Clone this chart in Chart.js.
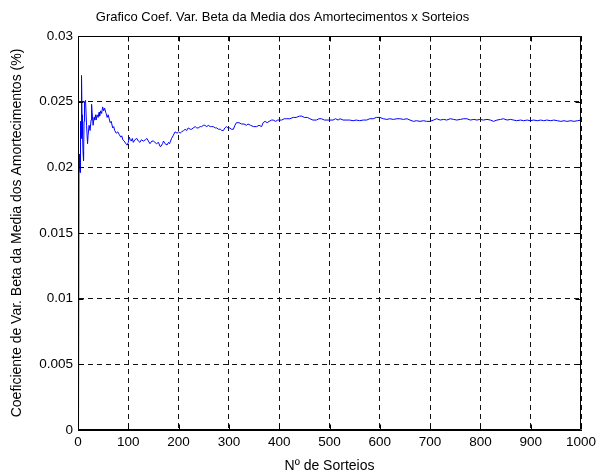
<!DOCTYPE html>
<html>
<head>
<meta charset="utf-8">
<script src="https://cdn.jsdelivr.net/npm/chart.js@4/dist/chart.umd.min.js"></script>
<style>
  html, body { margin: 0; padding: 0; background: #fff; }
  #wrap { width: 608px; height: 475px; }
</style>
</head>
<body>
<div id="wrap"><canvas id="c" width="608" height="475"></canvas></div>
<script>
const chartTitle = 'Grafico Coef. Var. Beta da Media dos Amortecimentos x Sorteios';
const xAxisTitle = 'Nº de Sorteios';
const yAxisTitle = 'Coeficiente de Var. Beta da Media dos Amortecimentos (%)';

const xTickValues = [0, 100, 200, 300, 400, 500, 600, 700, 800, 900, 1000];
const xTickLabels = ['0', '100', '200', '300', '400', '500', '600', '700', '800', '900', '1000'];
const yTickValues = [0, 0.005, 0.01, 0.015, 0.02, 0.025, 0.03];
const yTickLabels = ['0', '0.005', '0.01', '0.015', '0.02', '0.025', '0.03'];

const sorteios = [
  1,2,3,4,5,6,7,8,9,10,11,12,13,15,17,19,20,22,24,26,27,28,30,32,33,35,36,38,40,42,43,45,47,49,51,53,55,56,58,60,
  62,64,66,69,71,73,76,79,82,85,87,89,92,95,98,100,102,104,106,108,110,113,117,120,123,126,130,134,137,140,
  143,147,150,153,156,160,163,165,168,170,173,177,180,182,184,186,189,193,197,200,203,206,210,213,216,219,223,226,229,233,
  236,239,243,246,249,252,256,259,263,266,269,273,276,279,283,286,289,292,295,298,302,305,309,312,315,320,325,330,335,338,
  343,349,355,360,365,368,372,376,380,385,388,393,397,400,405,410,415,421,428,434,440,445,450,456,461,467,474,479,484,490,
  495,501,507,512,517,521,527,533,540,547,553,560,567,574,580,587,593,600,607,614,620,627,634,640,647,654,660,667,673,680,
  687,693,700,707,713,720,727,733,740,747,753,760,767,773,780,787,793,799,806,813,820,826,833,840,846,853,860,866,872,880,
  886,893,899,906,913,920,926,932,940,946,953,960,966,972,980,986,993,1000
];
const coefVar = [
  0,0.0210,0.0200,0.0196,0.0235,0.0222,0.0270,0.0240,0.0225,0.0212,0.0205,0.0235,0.0250,0.0251,0.0232,0.0218,0.0224,0.0232,0.0228,0.0236,0.0248,0.0242,0.0232,0.0238,0.0236,0.0240,0.0236,0.0240,0.0238,0.0242,0.0239,0.0243,0.0241,0.0246,0.0243,0.0245,0.0242,0.0241,0.0238,0.0240,
  0.0237,0.0234,0.0235,0.0230,0.0231,0.0228,0.0226,0.0227,0.0225,0.0223,0.0224,0.0221,0.0220,0.0218,0.0217,0.0219,0.0223,0.0221,0.0220,0.0222,0.0219,0.0221,0.0222,0.0220,0.0219,0.0221,0.0220,0.0221,0.0222,0.0220,
  0.0218,0.0220,0.0220,0.0219,0.0218,0.0219,0.0216,0.0216,0.0218,0.0220,0.0218,0.0217,0.0219,0.0218,0.0220,0.0222,0.0224,0.0227,0.0226,0.0227,0.0226,0.0227,0.0228,0.0229,0.0228,0.0230,0.0229,0.0229,0.0230,0.0231,
  0.0230,0.0230,0.0231,0.0231,0.0232,0.0232,0.0231,0.0232,0.0231,0.0231,0.0231,0.0230,0.0230,0.0229,0.0229,0.0228,0.0228,0.0230,0.0231,0.0230,0.0230,0.0229,0.0229,0.0232,0.0234,0.0234,0.0233,0.0233,0.0232,0.0233,
  0.0232,0.0231,0.0231,0.0232,0.0231,0.0234,0.0235,0.0234,0.0235,0.0236,0.0236,0.0235,0.0236,0.0236,0.0236,0.0237,0.0237,0.0237,0.0238,0.0238,0.0239,0.0239,0.0238,0.0238,0.0237,0.0236,0.0236,0.0237,0.0237,0.0236,
  0.0236,0.0236,0.0236,0.0237,0.0236,0.0237,0.0236,0.0236,0.0236,0.02355,0.0236,0.02355,0.0236,0.0236,0.0237,0.0237,0.0238,0.0238,0.0237,0.02365,0.0237,0.02365,0.0237,0.0237,0.02365,0.0237,0.0236,0.0235,0.02355,0.0235,
  0.02355,0.0235,0.0235,0.0236,0.0237,0.0236,0.02365,0.0236,0.0237,0.02365,0.0236,0.02365,0.0237,0.0237,0.0236,0.02365,0.0236,0.02365,0.0236,0.02365,0.0236,0.0235,0.0236,0.02365,0.0237,0.0236,0.02365,0.0236,0.02355,0.0236,
  0.02355,0.0236,0.02355,0.0236,0.02355,0.0236,0.02355,0.0236,0.02355,0.0236,0.02355,0.0235,0.02355,0.0235,0.02355,0.0235,0.02355,0.0236
];

const FONT = "'Liberation Sans', Arial, Helvetica, sans-serif";

const titleShift = {
  id: 'titleShift',
  afterLayout(chart) {
    if (chart.titleBlock) { chart.titleBlock.left -= 16; }
  }
};

const boxPlugin = {
  id: 'matlabBox',
  afterDraw(chart) {
    const {ctx, chartArea: a, scales} = chart;
    ctx.save();
    ctx.strokeStyle = '#000';
    ctx.lineWidth = 1;
    ctx.beginPath();
    const L = Math.round(a.left) + 0.5, R = Math.round(a.right) - 0.5;
    const T = Math.round(a.top) + 0.5, B = Math.round(a.bottom) - 0.5;
    ctx.rect(L, T, R - L, B - T);
    const tl = 5;
    scales.x.ticks.forEach(t => {
      const px = Math.round(scales.x.getPixelForValue(t.value)) + 0.5;
      ctx.moveTo(px, B); ctx.lineTo(px, B - tl);
      ctx.moveTo(px, T); ctx.lineTo(px, T + tl);
    });
    scales.y.ticks.forEach(t => {
      const py = Math.round(scales.y.getPixelForValue(t.value)) + 0.5;
      ctx.moveTo(L, py); ctx.lineTo(L + tl, py);
      ctx.moveTo(R, py); ctx.lineTo(R - tl, py);
    });
    ctx.stroke();
    ctx.restore();
  }
};

new Chart(document.getElementById('c'), {
  type: 'line',
  data: {
    datasets: [{
      data: sorteios.map((n, i) => ({x: n, y: coefVar[i]})),
      borderColor: '#0000ff',
      borderWidth: 1,
      pointRadius: 0,
      tension: 0,
      fill: false
    }]
  },
  options: {
    responsive: false,
    animation: false,
    devicePixelRatio: 1,
    layout: { padding: { left: 0, right: 27, top: 0, bottom: 0 } },
    plugins: {
      legend: { display: false },
      tooltip: { enabled: false },
      title: {
        display: true,
        text: chartTitle,
        color: '#000',
        font: { family: FONT, size: 13, weight: 'normal' },
        padding: { top: 10, bottom: 10.4 }
      }
    },
    scales: {
      x: {
        type: 'linear',
        min: 0, max: 1000,
        afterBuildTicks: s => { s.ticks = xTickValues.map(v => ({value: v})); },
        afterFit: s => { s.height = 45; },
        ticks: {
          color: '#000',
          font: { family: FONT, size: 13.5 },
          padding: 4,
          maxRotation: 0,
          callback: (v, i) => xTickLabels[i]
        },
        grid: { color: '#111', lineWidth: 1, drawTicks: false },
        border: { display: true, color: '#000', width: 1, dash: [5, 4] },
        title: {
          display: true,
          text: xAxisTitle,
          color: '#000',
          font: { family: FONT, size: 14 },
          padding: { top: 6, bottom: 0 }
        }
      },
      y: {
        type: 'linear',
        min: 0, max: 0.03,
        afterBuildTicks: s => { s.ticks = yTickValues.map(v => ({value: v})); },
        afterFit: s => { s.width = 78; },
        ticks: {
          color: '#000',
          font: { family: FONT, size: 13.5 },
          padding: 5,
          callback: (v, i) => yTickLabels[i]
        },
        grid: { color: '#111', lineWidth: 1, drawTicks: false },
        border: { display: true, color: '#000', width: 1, dash: [5, 4] },
        title: {
          display: true,
          text: yAxisTitle,
          color: '#000',
          font: { family: FONT, size: 14 },
          padding: { top: 9, bottom: 0 }
        }
      }
    }
  },
  plugins: [titleShift, boxPlugin]
});
</script>
</body>
</html>
